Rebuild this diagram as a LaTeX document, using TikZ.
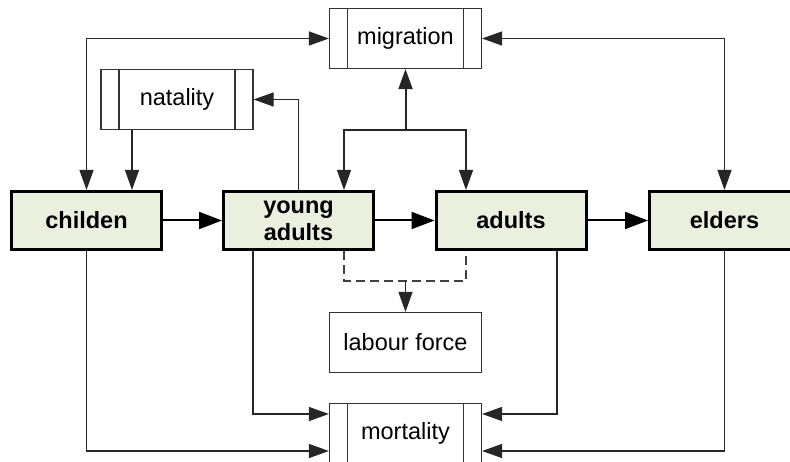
\documentclass[tikz,border=0pt]{standalone}
\usepackage{fontspec}
\setmainfont{Liberation Sans}
\usetikzlibrary{arrows.meta}

\definecolor{stockgreen}{RGB}{235,240,222}

\begin{document}
\begin{tikzpicture}[x=1pt,y=-1pt, >={Triangle[length=20pt,width=14pt]}]

\tikzset{stock/.style={draw=black, line width=3pt, fill=stockgreen, minimum width=150pt, minimum height=58pt, inner sep=0pt, align=center, font=\fontsize{23.5}{27}\selectfont\bfseries},
process/.style={draw=black!80, line width=1.2pt, fill=white, minimum width=152pt, minimum height=60pt, inner sep=0pt, font=\fontsize{23.5}{27}\selectfont,
  path picture={\draw[black!80, line width=1.2pt] ([xshift=\barinset]path picture bounding box.north west) -- ([xshift=\barinset]path picture bounding box.south west)
    ([xshift=-\barinset]path picture bounding box.north east) -- ([xshift=-\barinset]path picture bounding box.south east);}},
plainbox/.style={draw=black!80, line width=1.2pt, fill=white, minimum width=152pt, minimum height=60pt, inner sep=0pt, font=\fontsize{23.5}{27}\selectfont},
flow/.style={line width=2pt, ->, >={Triangle[length=23pt,width=17pt]}},
link/.style={black!85, line width=1.2pt},
%dashes as in the original drawing
dashlink/.style={black!75, line width=1.2pt, dash pattern=on 9pt off 5pt}}

\newcommand{\barinset}{18pt}
\newcommand{\leftfoot}{45.5pt}
\newcommand{\rightfoot}{45pt}

\useasboundingbox (0,0) rectangle (790,462);
\clip (0,0) rectangle (790,462);

% stocks
\node[stock] (children) at (86.5,220.5) {childen};
\node[stock] (young) at (298.5,220.5) {young\\adults};
\node[stock] (adults) at (511,220.5) {adults};
\node[stock] (elders) at (724.5,220.5) {elders};

% processes
\node[process] (migration) at (405.5,38.5) {migration};
\node[process] (natality) at (177,99.5) {natality};
\node[plainbox] (labour) at (405.5,342.5) {labour force};
\node[process] (mortality) at (405.5,433.5) {mortality};

\draw[flow] (children) -- (young);
\draw[flow] (young) -- (adults);
\draw[flow] (adults) -- (elders);

\draw[link,<->] (children.north) |- (migration.west);
\draw[link,<->] (elders.north) |- (migration.east);
\draw[link,->] (young.north) |- (natality.east);
\draw[link,->] ([xshift=-45pt]natality.south) -- ([xshift=-45pt]natality.south |- children.north);

\coordinate (split) at (405.5,130);
\draw[link,line width=2pt,->] (split) -- (migration.south);
\draw[link,->] (split) -| ([xshift=\leftfoot]young.north);
\draw[link,->] (split) -| ([xshift=-\rightfoot]adults.north);

\coordinate (labourjoin) at (405.5,281);
\draw[dashlink] ([xshift=\leftfoot]young.south) |- (labourjoin) -| ([xshift=-\rightfoot]adults.south);
\draw[link,->] (labourjoin) -- (labour.north);

\draw[link,->] (children.south) |- ([yshift=-17.5pt]mortality.west);
\draw[link,->] ([xshift=-\leftfoot]young.south) |- ([yshift=19.5pt]mortality.west);
\draw[link,->] ([xshift=46pt]adults.south) |- ([yshift=19.5pt]mortality.east);
\draw[link,->] (elders.south) |- ([yshift=-17.5pt]mortality.east);

\end{tikzpicture}
\end{document}
